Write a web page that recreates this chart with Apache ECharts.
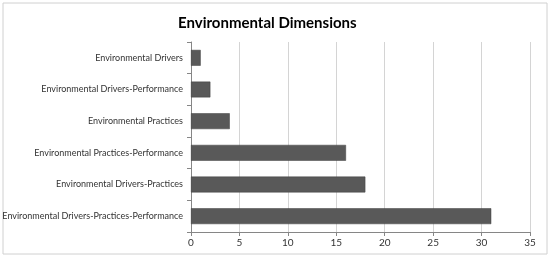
<!DOCTYPE html>
<html><head><meta charset="utf-8">
<script src="https://cdn.jsdelivr.net/npm/echarts@6/dist/echarts.min.js"></script>
<style>html,body{margin:0;padding:0;background:#fff}#c{width:550px;height:258px}</style>
</head><body><div id="c"></div>
<script>
const categories = ["Environmental Drivers","Environmental Drivers-Performance","Environmental Practices","Environmental Practices-Performance","Environmental Drivers-Practices","Environmental Drivers-Practices-Performance"];
const values = [1,2,4,16,18,31];
const xTicks = [0,5,10,15,20,25,30,35];
const chart = echarts.init(document.getElementById('c'));
chart.setOption({
  animation:false,
  graphic:[{type:'rect',shape:{x:3,y:3,width:544,height:251},style:{fill:'none',stroke:'#d0d0d0',lineWidth:1}}],
  title:{text:'Environmental Dimensions',left:173,top:11,textStyle:{fontFamily:'Lato',fontSize:15,fontWeight:'bold',color:'#000'}},
  grid:{left:191,right:20,top:42,bottom:26,containLabel:false,outerBoundsMode:'none'},
  xAxis:{type:'value',min:xTicks[0],max:xTicks[xTicks.length-1],interval:5,
    axisLine:{show:true,lineStyle:{color:'#868686'}},
    axisTick:{show:true,length:4,lineStyle:{color:'#868686'}},
    axisLabel:{fontFamily:'Lato',fontSize:10,color:'#333',margin:6},
    splitLine:{show:true,lineStyle:{color:'#d4d4d4'}}},
  yAxis:{type:'category',inverse:true,data:categories,
    axisLine:{show:true,lineStyle:{color:'#868686'}},
    axisTick:{show:true,length:4,lineStyle:{color:'#868686'}},
    axisLabel:{fontFamily:'Lato',fontSize:9,color:'#333',margin:8}},
  series:[{type:'bar',data:values,barCategoryGap:'50%',
    itemStyle:{color:'#595959',borderColor:'#3f3f3f',borderWidth:0.5}}]
});
</script></body></html>
